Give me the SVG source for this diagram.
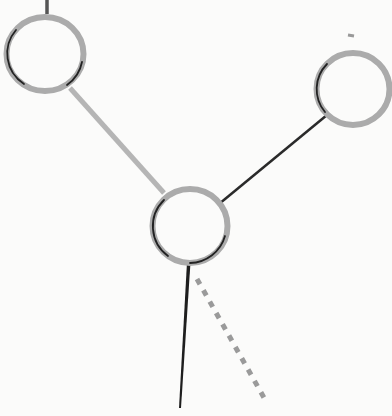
<svg xmlns="http://www.w3.org/2000/svg" width="392" height="416" viewBox="0 0 392 416">
<style>
.ring{fill:none;stroke:#ababab;stroke-width:6}
.edge{fill:none;stroke:#222;stroke-width:1.8;stroke-linecap:round}
</style>
<rect width="392" height="416" fill="#fbfbfa"/>
<g id="connectors">
<line x1="47" y1="0" x2="47" y2="14" stroke="#555" stroke-width="3.5"/>
<line x1="70" y1="88" x2="164" y2="193" stroke="#b5b5b5" stroke-width="5"/>
<line x1="219" y1="204" x2="327" y2="115" stroke="#2a2a2a" stroke-width="2.5"/>
<path d="M187,262 L190.5,262 L181,408 L179,408 Z" fill="#1e1e1e"/>
<line x1="197" y1="279" x2="267" y2="403" stroke="#9a9a9a" stroke-width="5" stroke-dasharray="6,7"/>
<line x1="348" y1="35" x2="354" y2="36" stroke="#999" stroke-width="3"/>
</g>
<g id="n1">
<ellipse class="ring" cx="45" cy="54" rx="38.5" ry="37"/>
<path class="edge" d="M16,30 A38.5,37 0 0 0 24,84"/>
<path class="edge" d="M82,62 A38.5,37 0 0 1 67,85"/>
</g>
<g id="n2">
<ellipse class="ring" cx="353" cy="89" rx="36.5" ry="36"/>
<path class="edge" d="M327,64 A36.5,36 0 0 0 325,112"/>
</g>
<g id="n3">
<ellipse class="ring" cx="190" cy="226" rx="37.5" ry="37"/>
<path class="edge" d="M164,200 A37.5,37 0 0 0 168,256"/>
<path class="edge" d="M225,236 A37.5,37 0 0 1 190,263"/>
</g>
</svg>
